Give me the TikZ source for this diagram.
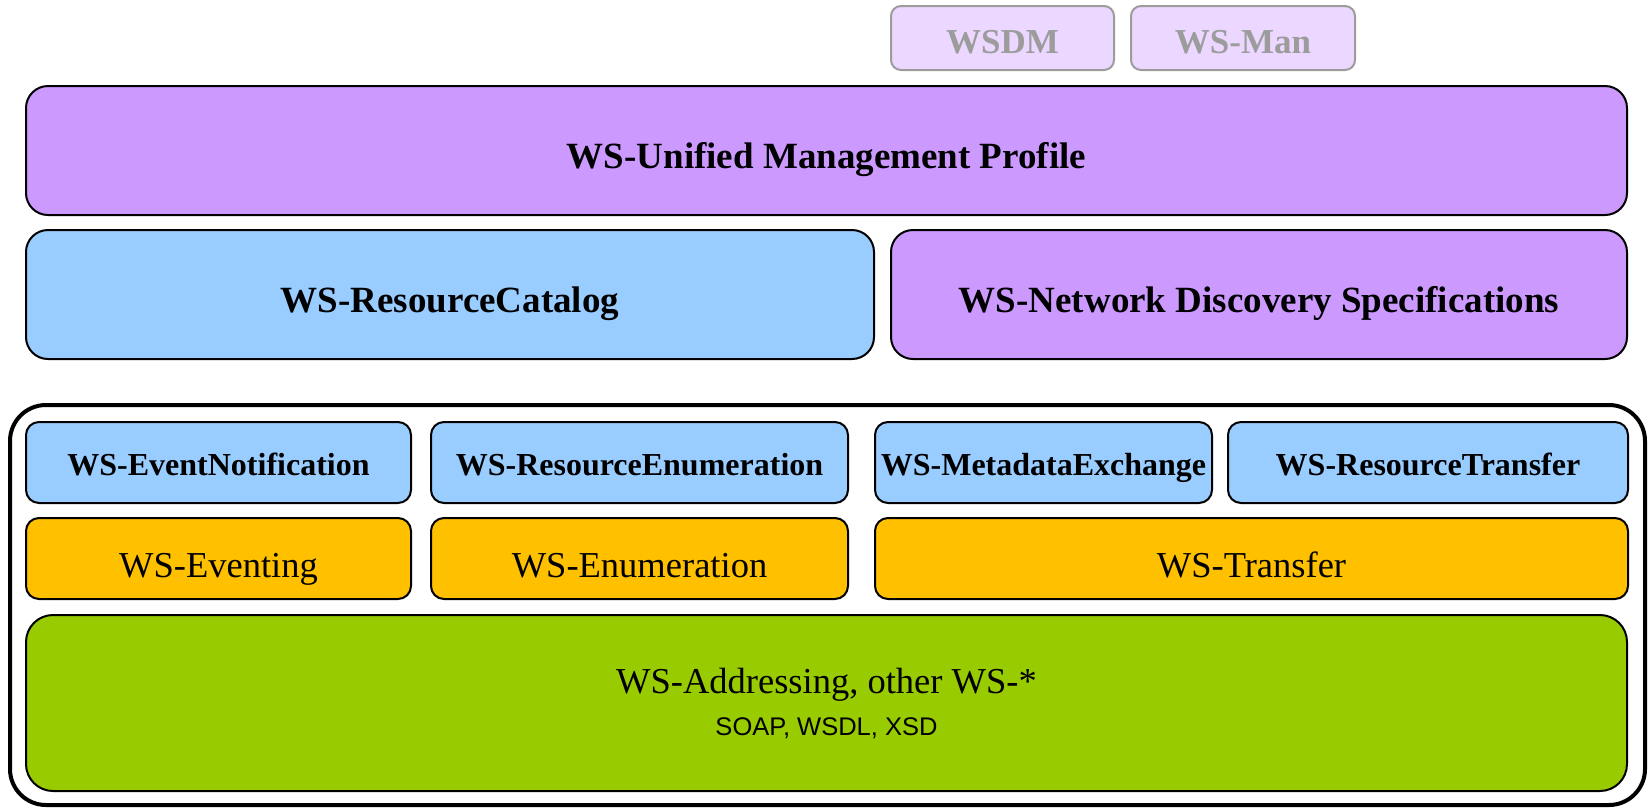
\documentclass[tikz,border=0pt]{standalone}
\usepackage{fontspec}
\setmainfont{Liberation Serif}
\newfontfamily\arialf{Liberation Sans}
\definecolor{mgmt}{HTML}{CC99FF}
\definecolor{catalog}{HTML}{99CCFF}
\definecolor{wsbase}{HTML}{FFC000}
\definecolor{wsaddr}{HTML}{99CC00}
\definecolor{faded}{HTML}{EBD7FF}
\definecolor{fadedline}{HTML}{9C9C9C}
\begin{document}
\begin{tikzpicture}[x=1pt,y=-1pt,
  layer/.style={draw=black,line width=2pt,rectangle,rounded corners=22pt,inner sep=0pt,
    text height=35pt,text depth=0pt,minimum height=129pt,
    font=\bfseries\fontsize{37}{44}\selectfont},
  spec/.style={draw=black,line width=2pt,rectangle,rounded corners=13pt,inner sep=0pt,
    text height=25pt,text depth=0pt,
    minimum height=81pt,font=\bfseries\fontsize{32}{38}\selectfont},
  base/.style={spec,text height=37pt,font=\fontsize{36.5}{44}\selectfont,fill=wsbase},
  ghost/.style={draw=fadedline,line width=2pt,rectangle,rounded corners=10pt,inner sep=0pt,
    fill=faded,text=fadedline,minimum width=223pt,minimum height=64pt,
    text height=30pt,text depth=0pt,
    font=\bfseries\fontsize{35}{42}\selectfont},
  frame/.style={draw=black,line width=4pt,rectangle,rounded corners=36pt,inner sep=0pt}]
\useasboundingbox (0,0) rectangle (1650,807);

% management profiles on top
\node[ghost] (wsdm) at (1002.5,38) {WSDM};
\node[ghost,minimum width=224pt] (wsman) at (1243,38) {WS-Man};
\node[layer,fill=mgmt,minimum width=1601pt] (wsump) at (826.5,150.5) {WS-Unified Management Profile};
\node[layer,fill=catalog,minimum width=848pt] (wsrc) at (450,294.5) {WS-ResourceCatalog};
\node[layer,fill=mgmt,minimum width=736pt] (wsnd) at (1259,294.5) {WS-Network Discovery Specifications};

% framed protocol stack
\node[frame,minimum width=1635pt,minimum height=400pt] (stack) at (827.5,605) {};
\node[spec,fill=catalog,minimum width=385pt] (evn) at (218.5,462.5) {WS-EventNotification};
\node[spec,fill=catalog,minimum width=417pt] (ren) at (639.5,462.5) {WS-ResourceEnumeration};
\node[spec,fill=catalog,minimum width=337pt] (mex) at (1043.5,462.5) {WS-MetadataExchange};
\node[spec,fill=catalog,minimum width=400pt] (rtr) at (1428,462.5) {WS-ResourceTransfer};
\node[base,minimum width=385pt] (evt) at (218.5,558.5) {WS-Eventing};
\node[base,minimum width=417pt] (enu) at (639.5,558.5) {WS-Enumeration};
\node[base,minimum width=753pt] (trf) at (1251.5,558.5) {WS-Transfer};
\node[draw=black,line width=2pt,rectangle,rounded corners=27pt,inner sep=0pt,fill=wsaddr,
  minimum width=1601pt,minimum height=176pt,align=center,
  font=\fontsize{36.5}{44}\selectfont] (wsa) at (826.5,703)
  {WS-Addressing, other WS-*\\[-2pt]
   {\arialf\fontsize{25.5}{30}\selectfont SOAP, WSDL, XSD}};
\end{tikzpicture}
\end{document}
